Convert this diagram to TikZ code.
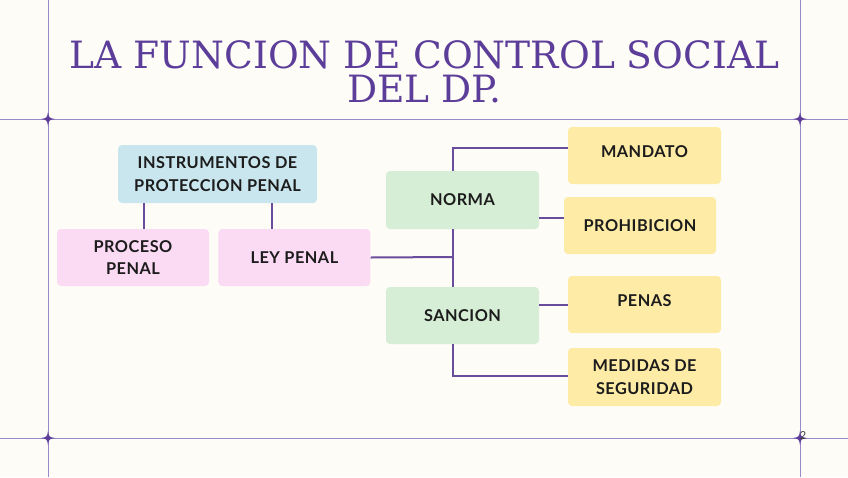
\documentclass[tikz,border=0pt]{standalone}
\usepackage{fontspec}
\setmainfont{Lato}[LetterSpace=3]
\newfontfamily\titlefont{DejaVu Serif}
\usetikzlibrary{positioning,calc}

\definecolor{paper}{HTML}{FDFCF7}
\definecolor{titlepurple}{HTML}{5C3D99}
\definecolor{framepurple}{HTML}{9A88CC}
\definecolor{linkpurple}{HTML}{6A4C9C}
\definecolor{instrblue}{HTML}{C9E6EE}
\definecolor{leypink}{HTML}{FBDAF4}
\definecolor{normagreen}{HTML}{D6EED5}
\definecolor{tipoyellow}{HTML}{FEEBA6}
\definecolor{inkblk}{HTML}{1C1C1C}

\begin{document}
\begin{tikzpicture}[x=1pt,y=-1pt,
    box/.style={rectangle, rounded corners=4pt, minimum width=153pt, minimum height=57pt,
        inner sep=0pt, align=center, text=inkblk, font=\fontsize{16.3}{22.5}\selectfont\bfseries},
    link/.style={draw=linkpurple, line width=2pt},
    frame/.style={draw=framepurple, line width=0.9pt}]
    \useasboundingbox (0,0) rectangle (848,477);
    \fill[paper] (0,0) rectangle (848,477);

    % frame lines and stars
    \draw[frame] (48,0) -- (48,477);
    \draw[frame] (800,0) -- (800,477);
    \draw[frame] (0,119) -- (848,119);
    \draw[frame] (0,438) -- (848,438);
    \foreach \sx/\sy in {48/119, 800/119, 48/438, 800/438}
        \fill[titlepurple, shift={(\sx,\sy)}] (0,-7) .. controls (1,-1) .. (7,0) .. controls (1,1) .. (0,7)
            .. controls (-1,1) .. (-7,0) .. controls (-1,-1) .. cycle;

    % title
    \node (title) [anchor=north, inner sep=0pt, align=center, text=titlepurple,
        font=\fontsize{37.6}{34}\selectfont\titlefont] at (424.5,40.7)
        {LA FUNCION DE CONTROL SOCIAL\\DEL DP.};

    % left part
    \node (instr) [box, fill=instrblue, minimum width=199pt, minimum height=58pt] at (217.5,174) {INSTRUMENTOS DE\\PROTECCION PENAL};
    \node (proceso) [box, fill=leypink, minimum width=152pt] at (133,257.5) {PROCESO\\PENAL};
    \node (ley) [box, fill=leypink, minimum width=152pt, right=9pt of proceso] {LEY PENAL};

    % right part
    \node (norma) [box, fill=normagreen, minimum height=58pt] at (462.5,200) {NORMA};
    \node (sancion) [box, fill=normagreen] at (462.5,315.5) {SANCION};
    \node (mandato) [box, fill=tipoyellow, text depth=7pt] at (644.5,155.5) {MANDATO};
    \node (prohib) [box, fill=tipoyellow, minimum width=152pt] at (640,225.5) {PROHIBICION};
    \node (penas) [box, fill=tipoyellow, text depth=8pt] at (644.5,304.5) {PENAS};
    \node (medidas) [box, fill=tipoyellow, minimum height=58pt] at (644.5,377) {MEDIDAS DE\\SEGURIDAD};

    \node (pnum) [text=black!75, font=\fontsize{11}{11}\selectfont] at (803,436) {2};

    % connectors
    \coordinate (bus) at (453,257);
    \coordinate (top) at (453,148);
    \coordinate (bot) at (453,376);

    \draw[link] ([xshift=11pt]proceso.north |- instr.south) -- ([xshift=11pt]proceso.north);
    \draw[link] ([xshift=-22pt]ley.north |- instr.south) -- ([xshift=-22pt]ley.north);
    \draw[link] (ley.east) -- (bus);
    \draw[link] (norma.south -| bus) -- (sancion.north -| bus);
    \draw[link] (norma.north -| top) -- (top) -- (top -| mandato.west);
    \draw[link] ([yshift=-18pt]norma.east) -- ([yshift=-18pt]norma.east -| prohib.west);
    \draw[link] ([yshift=10.5pt]sancion.east) -- ([yshift=10.5pt]sancion.east -| penas.west);
    \draw[link] (sancion.south -| bot) -- (bot) -- (bot -| medidas.west);
\end{tikzpicture}
\end{document}
